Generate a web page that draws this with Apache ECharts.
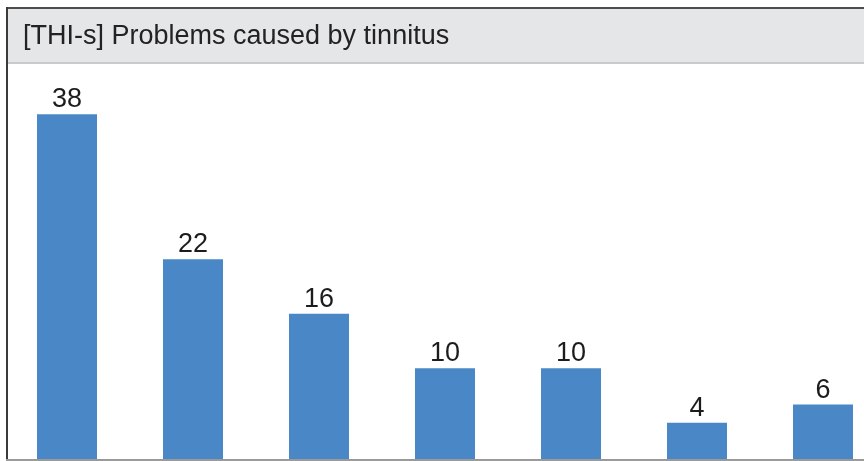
<!DOCTYPE html>
<html>
<head>
<meta charset="utf-8">
<script src="https://cdn.jsdelivr.net/npm/echarts@6/dist/echarts.min.js"></script>
<style>
  html, body { margin: 0; padding: 0; background: #fff; }
  #chart { width: 864px; height: 461px; }
</style>
</head>
<body>
<div id="chart"></div>
<script>
// THI-s item counts, one bar per problem category
const titleText = '[THI-s] Problems caused by tinnitus';
const categories = ['1', '2', '3', '4', '5', '6', '7'];
const counts = [38, 22, 16, 10, 10, 4, 6];
const yMax = 40;

const FONT = '"Liberation Sans", Arial, Helvetica, sans-serif';
const chart = echarts.init(document.getElementById('chart'), null, { renderer: 'canvas' });

chart.setOption({
  animation: false,
  backgroundColor: '#ffffff',
  // plot area runs past the right edge of the frame; the last band is cut off
  grid: { left: 4, top: 96, width: 882, height: 363, outerBoundsMode: 'none', containLabel: false },
  xAxis: {
    type: 'category',
    data: categories,
    axisLine: { show: false },
    axisTick: { show: false },
    axisLabel: { show: false },
    splitLine: { show: false }
  },
  yAxis: {
    type: 'value',
    min: 0,
    max: yMax,
    show: false,
    splitLine: { show: false }
  },
  series: [{
    type: 'bar',
    data: counts,
    barWidth: 60,
    itemStyle: { color: '#4a87c6' },
    label: {
      show: true,
      position: 'top',
      distance: 1,
      fontFamily: FONT,
      fontSize: 27,
      color: '#1c1c1c'
    }
  }],
  graphic: [
    // header band
    { type: 'rect', z: 10, shape: { x: 8, y: 9, width: 860, height: 53 }, style: { fill: '#e5e6e7' } },
    { type: 'rect', z: 10, shape: { x: 8, y: 62, width: 860, height: 2 }, style: { fill: '#c8cacb' } },
    // frame
    { type: 'rect', z: 11, shape: { x: 6, y: 7, width: 860, height: 2 }, style: { fill: '#4d4d4d' } },
    { type: 'rect', z: 11, shape: { x: 6, y: 7, width: 2, height: 454 }, style: { fill: '#3a3a3a' } },
    { type: 'rect', z: 11, shape: { x: 6, y: 459, width: 860, height: 2 }, style: { fill: '#9a9a9a' } },
    {
      type: 'text', z: 12, x: 23, y: 37,
      style: {
        text: titleText,
        font: '27px ' + FONT,
        fill: '#222222',
        verticalAlign: 'middle'
      }
    }
  ]
});
</script>
</body>
</html>
